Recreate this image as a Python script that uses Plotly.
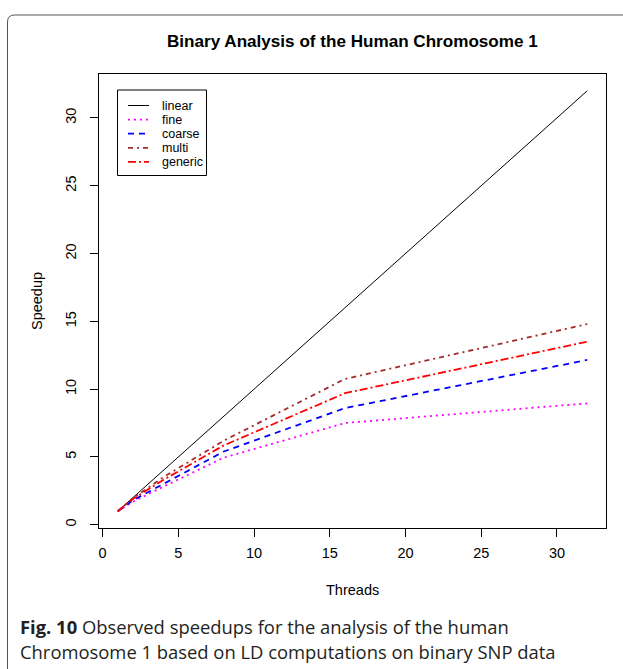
import plotly.graph_objects as go

# Speedup measurements
threads = [1, 2, 4, 8, 16, 32]
linear = [1, 2, 4, 8, 16, 32]
fine = [1, 1.7, 2.8, 4.95, 7.5, 8.95]
coarse = [1, 1.8, 3.0, 5.4, 8.6, 12.15]
multi = [1, 1.95, 3.5, 6.2, 10.75, 14.8]
generic = [1, 1.9, 3.3, 5.85, 9.7, 13.5]

x_ticks = [0, 5, 10, 15, 20, 25, 30]
y_ticks = [0, 5, 10, 15, 20, 25, 30]

series_names = ["linear", "fine", "coarse", "multi", "generic"]
series_values = [linear, fine, coarse, multi, generic]
series_colors = ["#000000", "#ff00ff", "#0000ff", "#a52a2a", "#ff0000"]
series_dash = ["solid", "2px,4px", "6px,5px", "5px,4px,2px,4px", "8px,3px,2px,3px"]
series_width = [1, 1.8, 1.8, 1.8, 1.8]

W, H = 623, 669
L, R, T, B = 99, 17, 74, 141
PW, PH = W - L - R, H - T - B

def px(x):
    return (x - L) / PW

def py(y):
    return (H - B - y) / PH

AXIS_FONT = dict(family="Liberation Sans, Arial, sans-serif", size=14.5, color="#000")

fig = go.Figure()
for name, vals, col, dash, lw in zip(series_names, series_values, series_colors,
                                     series_dash, series_width):
    fig.add_trace(go.Scatter(x=threads, y=vals, mode="lines", name=name,
                             line=dict(color=col, dash=dash, width=lw),
                             showlegend=False))

# R-style axis range: data range padded by 4 %
def padded(lo, hi):
    d = (hi - lo) * 0.04
    return [lo - d, hi + d]

all_y = [v for s in series_values for v in s]
fig.update_xaxes(range=padded(min(threads), max(threads)), tickvals=x_ticks,
                 ticks="outside", ticklen=8, tickcolor="#000", tickwidth=1,
                 showline=True, linecolor="#000", linewidth=1, mirror=True,
                 showgrid=False, zeroline=False, tickfont=AXIS_FONT,
                 ticklabelstandoff=4)
fig.update_yaxes(range=padded(min(all_y), max(all_y)), tickvals=y_ticks,
                 ticks="outside", ticklen=8, tickcolor="#000", tickwidth=1,
                 showline=True, linecolor="#000", linewidth=1, mirror=True,
                 showgrid=False, zeroline=False, tickfont=AXIS_FONT,
                 tickangle=-90, ticklabelstandoff=8)

annotations = [
    dict(x=px(352.5), y=py(42), text="<b>Binary Analysis of the Human Chromosome 1</b>",
         font=dict(family="Liberation Sans, Arial, sans-serif", size=17.1, color="#000")),
    dict(x=px(352.5), y=py(590), text="Threads", font=AXIS_FONT),
    dict(x=px(37), y=py(301), text="Speedup", font=AXIS_FONT, textangle=-90),
]
cap_font = dict(family="Open Sans, sans-serif", size=18.4, color="#231f20")
annotations.append(dict(x=px(18), y=py(626), xanchor="left",
                        text="<b>Fig. 10</b> Observed speedups for the analysis of the human",
                        font=cap_font))
annotations.append(dict(x=px(18), y=py(651), xanchor="left",
                        text="Chromosome 1 based on LD computations on binary SNP data",
                        font=cap_font))

shapes = []
# legend box
shapes.append(dict(type="rect", xref="paper", yref="paper",
                   x0=px(117.5), x1=px(206.5), y0=py(175.5), y1=py(90),
                   line=dict(color="#000", width=1), fillcolor="#fff"))
leg_font = dict(family="Liberation Sans, Arial, sans-serif", size=12.5, color="#000")
for i, (name, col, dash, lw) in enumerate(zip(series_names, series_colors,
                                              series_dash, series_width)):
    yy = 105.5 + i * 14.1
    shapes.append(dict(type="line", xref="paper", yref="paper",
                       x0=px(128), x1=px(149), y0=py(yy), y1=py(yy),
                       line=dict(color=col, dash=dash, width=lw)))
    annotations.append(dict(x=px(160), y=py(yy), xanchor="left", text=name,
                            font=leg_font))

# rounded page frame
fx, fy, r = 7.5, 15, 7
frame = (f"M {px(fx)},{py(H + 5)} L {px(fx)},{py(fy + r)} "
         f"Q {px(fx)},{py(fy)} {px(fx + r)},{py(fy)} L {px(W + 5)},{py(fy)}")
shapes.append(dict(type="path", xref="paper", yref="paper", path=frame,
                   line=dict(color="#555", width=1)))

for a in annotations:
    a.setdefault("xref", "paper")
    a.setdefault("yref", "paper")
    a.setdefault("showarrow", False)
    a.setdefault("xanchor", "center")
    a.setdefault("yanchor", "middle")

fig.update_layout(width=W, height=H, margin=dict(l=L, r=R, t=T, b=B),
                  paper_bgcolor="#fff", plot_bgcolor="#fff",
                  annotations=annotations, shapes=shapes)

fig.write_html("out.html")
